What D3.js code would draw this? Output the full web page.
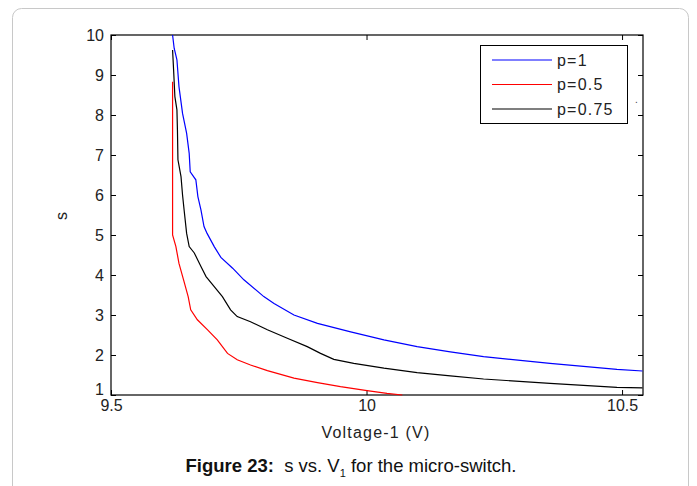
<!DOCTYPE html>
<html><head><meta charset="utf-8">
<script src="https://cdn.jsdelivr.net/npm/d3@7"></script>
<style>body{margin:0;background:#fff;} svg{display:block;}</style>
</head><body>
<svg id="c" width="697" height="486"></svg>
<script>
const xTicks = [9.5, 10, 10.5];
const yTicks = [1,2,3,4,5,6,7,8,9,10];
const seriesNames = ["p=1", "p=0.5", "p=0.75"];
const seriesColors = ["#0000ff", "#ff0000", "#000000"];
const v1 = [9.6205,9.6236,9.629,9.633,9.640,9.648,9.653,9.655,9.666,9.670,9.676,9.682,9.688,9.702,9.715,9.738,9.760,9.799,9.819,9.858,9.904,9.969,10.034,10.099,10.164,10.229,10.359,10.490,10.540];
const s1 = [10,9.67,9.38,8.71,8.04,7.54,7.04,6.58,6.38,5.96,5.63,5.21,5.04,4.71,4.44,4.17,3.88,3.46,3.29,3.0,2.79,2.58,2.38,2.21,2.08,1.96,1.79,1.64,1.60];
const v05 = [9.6205,9.6205,9.627,9.633,9.642,9.651,9.656,9.669,9.689,9.708,9.728,9.747,9.773,9.806,9.858,9.904,9.949,10.001,10.040,10.07];
const s05 = [8.83,5.0,4.71,4.29,3.88,3.46,3.13,2.88,2.63,2.38,2.04,1.88,1.75,1.61,1.42,1.31,1.21,1.11,1.04,1.0];
const v075 = [9.6205,9.6225,9.625,9.629,9.630,9.631,9.637,9.640,9.643,9.648,9.653,9.663,9.676,9.686,9.702,9.718,9.734,9.747,9.773,9.806,9.845,9.884,9.910,9.936,9.975,10.034,10.099,10.164,10.229,10.359,10.490,10.540];
const s075 = [9.625,9.125,8.46,8.13,7.63,6.88,6.46,6.0,5.63,5.04,4.71,4.55,4.21,3.96,3.71,3.46,3.13,2.96,2.83,2.63,2.42,2.21,2.04,1.89,1.79,1.67,1.56,1.48,1.40,1.29,1.19,1.18];

const svg = d3.select("#c");
svg.append("rect").attr("x",12.5).attr("y",8.5).attr("width",676).attr("height",500)
  .attr("rx",9).attr("fill","none").attr("stroke","#c8c8c8").attr("stroke-width",1);

const L=111, R=643, T=35, B=395;
const x = d3.scaleLinear().domain([9.5, 10.541]).range([L, R]);
const y = d3.scaleLinear().domain([1, 10]).range([B, T]);

const font = "'Liberation Sans', Arial, sans-serif";
const fs = 16, ls = "1.2px";
const tl = 5;
const axB = svg.append("g").attr("transform",`translate(0,${B})`)
  .call(d3.axisBottom(x).tickValues(xTicks).tickSize(-tl).tickSizeOuter(0).tickPadding(8).tickFormat(d3.format("")));
const axT = svg.append("g").attr("transform",`translate(0,${T})`)
  .call(d3.axisTop(x).tickValues(xTicks).tickSize(-tl).tickSizeOuter(0).tickFormat(""));
const axL = svg.append("g").attr("transform",`translate(${L},0)`)
  .call(d3.axisLeft(y).tickValues(yTicks).tickSize(-tl).tickSizeOuter(0).tickPadding(7).tickFormat(d3.format("")));
const axR = svg.append("g").attr("transform",`translate(${R},0)`)
  .call(d3.axisRight(y).tickValues(yTicks).tickSize(-tl).tickSizeOuter(0).tickFormat(""));
[axB,axT,axL,axR].forEach(a=>{
  a.selectAll(".domain").remove();
  a.selectAll("line").attr("stroke","#000");
  a.selectAll("text").attr("font-family",font).attr("font-size",fs).attr("fill","#222");
});
axB.selectAll("text").attr("dy","0.5em");
axL.selectAll("text").attr("dy","0.36em");
axL.selectAll(".tick").filter(d=>d===1).select("text").attr("dy","-0.02em");
svg.append("rect").attr("x",L).attr("y",T).attr("width",R-L).attr("height",B-T)
  .attr("fill","none").attr("stroke","#000").attr("stroke-width",1.2);

svg.append("clipPath").attr("id","pc").append("rect")
  .attr("x",L).attr("y",T-1).attr("width",R-L).attr("height",B-T+2);

const line = d3.line().x(d=>x(d[0])).y(d=>y(d[1]));
const data = [d3.zip(v1,s1), d3.zip(v05,s05), d3.zip(v075,s075)];
const g = svg.append("g").attr("clip-path","url(#pc)");
data.forEach((d,i)=>{
  g.append("path").datum(d).attr("d",line).attr("fill","none")
    .attr("stroke",seriesColors[i]).attr("stroke-width",1.2);
});

// legend
const lg = svg.append("g");
lg.append("rect").attr("x",480.5).attr("y",45.5).attr("width",147).attr("height",78)
  .attr("fill","#fff").attr("stroke","#000").attr("stroke-width",1);
seriesNames.forEach((n,i)=>{
  const yy = 60 + i*24.5;
  lg.append("line").attr("x1",492).attr("x2",552).attr("y1",yy).attr("y2",yy)
    .attr("stroke",seriesColors[i]).attr("stroke-width",1.2);
  lg.append("text").attr("x",557).attr("y",yy).attr("dy","0.36em").text(n)
    .attr("font-family",font).attr("font-size",fs).attr("letter-spacing",ls).attr("fill","#222");
});
svg.append("text").attr("x",635).attr("y",103).text(".").attr("font-family",font).attr("font-size",10).attr("fill","#444");

// axis labels
svg.append("text").attr("x",376).attr("y",438).attr("text-anchor","middle")
  .attr("font-family",font).attr("font-size",fs).attr("letter-spacing",ls).attr("fill","#222").text("Voltage-1 (V)");
svg.append("text").attr("transform","translate(67,216) rotate(-90)").attr("text-anchor","middle")
  .attr("font-family",font).attr("font-size",fs).attr("fill","#222").text("s");

// caption
const cap = svg.append("text").attr("x",351).attr("y",472).attr("text-anchor","middle")
  .attr("font-family",font).attr("font-size",18.5).attr("fill","#111");
cap.append("tspan").attr("font-weight","bold").text("Figure 23:");
cap.append("tspan").text("\u00a0 s vs. V");
cap.append("tspan").attr("font-size",11).attr("dy",5).text("1");
cap.append("tspan").attr("dy",-5).text(" for the micro-switch.");
</script>
</body></html>
